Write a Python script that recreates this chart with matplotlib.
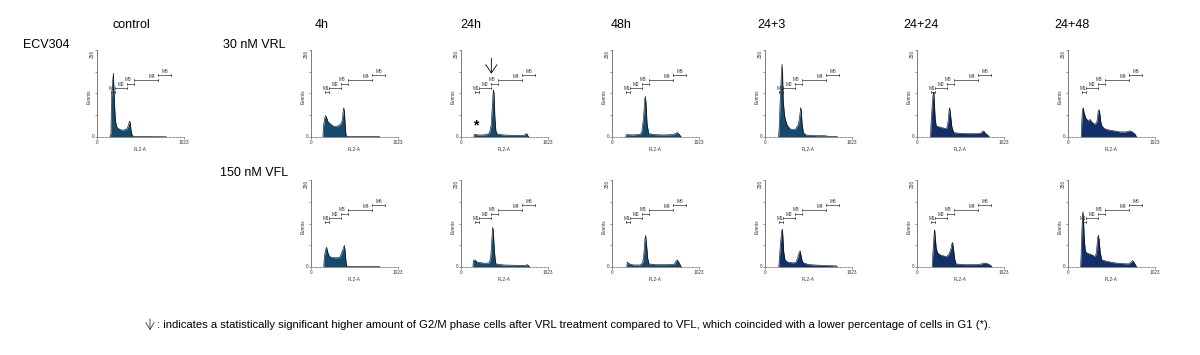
import matplotlib
matplotlib.use('Agg')
import matplotlib.pyplot as plt

plt.rcParams['font.family'] = ['Liberation Sans', 'DejaVu Sans']

# column headers and row labels
col_titles = ['control', '4h', '24h', '48h', '24+3', '24+24', '24+48']
row_labels = ['30 nM VRL', '150 nM VFL']

# marker gates (channel start, channel end, height in events)
gate_names = ['M1', 'M2', 'M3', 'M4', 'M5']
gate_lo = [160, 212, 350, 434, 720]
gate_hi = [210, 350, 434, 720, 874]
gate_y = [132, 143, 157, 167, 182]

# histogram profiles (FL2-A channel, events)
ch_ctrl = [150, 164, 170, 180, 188, 193, 198, 205, 215, 225, 240, 270, 300, 340, 360, 375, 383, 390, 400, 412, 420, 440, 600, 800, 820]
n_ctrl = [0, 10, 110, 150, 175, 188, 150, 100, 55, 35, 27, 22, 20, 22, 28, 40, 47, 42, 20, 6, 3, 2, 2, 1, 0]

ch_vrl_4h = [140, 146, 160, 172, 182, 200, 230, 260, 290, 320, 350, 368, 380, 386, 394, 402, 412, 430, 800, 810]
n_vrl_4h = [0, 30, 55, 63, 58, 45, 38, 32, 31, 33, 38, 50, 80, 86, 70, 35, 4, 2, 2, 0]

ch_vrl_24h = [150, 157, 200, 250, 300, 335, 355, 370, 380, 388, 398, 410, 425, 500, 600, 740, 760, 774, 785, 800]
n_vrl_24h = [0, 8, 6, 6, 7, 12, 35, 100, 139, 130, 60, 18, 9, 6, 5, 5, 9, 10, 4, 0]

ch_vrl_48h = [160, 169, 250, 330, 350, 370, 385, 392, 400, 412, 431, 500, 600, 717, 750, 768, 790, 815]
n_vrl_48h = [0, 7, 6, 8, 15, 55, 110, 120, 100, 40, 10, 7, 6, 7, 11, 13, 8, 0]

ch_vrl_24_3 = [160, 169, 180, 192, 200, 206, 214, 225, 235, 260, 294, 330, 353, 375, 392, 408, 418, 426, 436, 451, 480, 600, 686, 760, 843, 850]
n_vrl_24_3 = [0, 40, 120, 180, 214, 190, 110, 75, 56, 35, 24, 22, 22, 30, 37, 60, 86, 80, 40, 13, 6, 4, 4, 2, 2, 0]

ch_vrl_24_24 = [158, 165, 180, 192, 198, 206, 215, 227, 260, 300, 340, 353, 368, 378, 384, 392, 410, 431, 500, 600, 700, 745, 770, 784, 800, 843, 850]
n_vrl_24_24 = [0, 40, 100, 130, 132, 90, 50, 32, 30, 27, 25, 28, 50, 80, 86, 70, 30, 13, 11, 10, 10, 11, 16, 18, 12, 3, 0]

ch_vrl_24_48 = [155, 161, 170, 180, 190, 210, 239, 259, 280, 317, 340, 355, 365, 374, 385, 396, 420, 455, 520, 612, 680, 710, 729, 750, 790, 807]
n_vrl_24_48 = [0, 40, 80, 86, 70, 55, 47, 52, 44, 37, 45, 75, 81, 70, 45, 34, 26, 22, 19, 15, 15, 17, 18, 16, 8, 0]

ch_vfl_4h = [150, 157, 170, 184, 195, 216, 250, 290, 333, 350, 365, 380, 392, 400, 410, 420, 440, 800, 810]
n_vfl_4h = [0, 30, 50, 58, 45, 31, 28, 27, 28, 35, 46, 55, 64, 50, 20, 3, 2, 2, 0]

ch_vfl_24h = [140, 145, 165, 185, 220, 280, 333, 350, 362, 372, 380, 392, 405, 412, 500, 650, 760, 780, 795, 804]
n_vfl_24h = [0, 19, 21, 15, 13, 11, 12, 30, 80, 117, 105, 50, 15, 9, 6, 5, 5, 7, 4, 0]

ch_vfl_48h = [172, 180, 195, 250, 330, 360, 375, 388, 396, 405, 420, 435, 520, 650, 730, 755, 768, 790, 815]
n_vfl_48h = [0, 15, 10, 6, 6, 12, 40, 85, 93, 70, 25, 9, 7, 7, 8, 18, 21, 12, 0]

ch_vfl_24_3 = [162, 169, 182, 196, 204, 210, 220, 235, 270, 330, 365, 385, 400, 412, 420, 435, 451, 520, 650, 760, 843, 850]
n_vfl_24_3 = [0, 25, 70, 105, 112, 90, 45, 21, 14, 12, 14, 28, 42, 48, 38, 20, 12, 7, 5, 4, 3, 0]

ch_vfl_24_24 = [178, 184, 196, 204, 208, 214, 226, 243, 280, 320, 353, 380, 400, 412, 419, 428, 442, 459, 550, 700, 760, 784, 830, 870, 882]
n_vfl_24_24 = [0, 30, 80, 105, 109, 90, 55, 41, 35, 32, 31, 40, 55, 70, 72, 55, 25, 9, 7, 7, 9, 12, 10, 4, 0]

ch_vfl_24_48 = [148, 153, 162, 170, 176, 182, 192, 204, 230, 263, 300, 321, 335, 348, 357, 366, 378, 396, 450, 553, 650, 710, 740, 761, 780, 808]
n_vfl_24_48 = [0, 30, 100, 150, 163, 140, 80, 46, 40, 38, 33, 31, 45, 85, 94, 80, 45, 21, 17, 12, 10, 9, 14, 19, 12, 0]

teal = '#134a6e'
navy = '#112f69'

row1 = [(ch_ctrl, n_ctrl, teal), (ch_vrl_4h, n_vrl_4h, teal), (ch_vrl_24h, n_vrl_24h, teal),
        (ch_vrl_48h, n_vrl_48h, teal), (ch_vrl_24_3, n_vrl_24_3, teal),
        (ch_vrl_24_24, n_vrl_24_24, navy), (ch_vrl_24_48, n_vrl_24_48, navy)]
row2 = [None, (ch_vfl_4h, n_vfl_4h, teal), (ch_vfl_24h, n_vfl_24h, teal),
        (ch_vfl_48h, n_vfl_48h, teal), (ch_vfl_24_3, n_vfl_24_3, navy),
        (ch_vfl_24_24, n_vfl_24_24, navy), (ch_vfl_24_48, n_vfl_24_48, navy)]

W, H = 1200, 355
fig = plt.figure(figsize=(12, 3.55), dpi=100)

col_left = [97, 311, 461, 612, 765, 917, 1068]
row_bottom = [137, 267]
ax_w, ax_h = 87, 87


def fx(px):
    return px / W


def fy(py):
    return 1 - py / H


def histo_panel(ax, ch, n, color):
    ax.fill_between(ch, n, 0, color=color, lw=0)
    ax.plot(ch, n, color='black', lw=0.4)
    ax.set_xlim(0, 1023)
    ax.set_ylim(0, 256)
    for s in ['top', 'right']:
        ax.spines[s].set_visible(False)
    ax.spines['left'].set_color('#666666')
    ax.spines['bottom'].set_color('#888888')
    ax.spines['left'].set_linewidth(0.6)
    ax.spines['bottom'].set_linewidth(0.6)
    ax.spines['bottom'].set_linestyle((0, (3, 1.5)))
    ax.set_yticks([0, 64, 128, 192, 256])
    ax.set_xticks([0, 1023])
    ax.tick_params(length=1.5, width=0.5, color='#666666', labelleft=False, labelbottom=False)
    ax.patch.set_alpha(0)
    sm = 3.4
    ax.text(-25, 256, '256', fontsize=sm, rotation=90, ha='right', va='top', color='#333333')
    ax.text(-25, 0, '0', fontsize=sm, ha='right', va='center', color='#333333')
    ax.text(-60, 120, 'Events', fontsize=sm, rotation=90, ha='right', va='center', color='#333333')
    ax.text(0, -10, '0', fontsize=sm, ha='center', va='top', color='#333333')
    ax.text(1023, -10, '1023', fontsize=sm, ha='center', va='top', color='#333333')
    ax.text(512, -28, 'FL2-A', fontsize=sm, ha='center', va='top', color='#333333')
    # marker gates
    for name, lo, hi, gy in zip(gate_names, gate_lo, gate_hi, gate_y):
        ax.plot([lo, hi], [gy, gy], color='#333333', lw=0.5)
        ax.plot([lo, lo], [gy - 3, gy + 3], color='#333333', lw=0.5)
        ax.plot([hi, hi], [gy - 3, gy + 3], color='#333333', lw=0.5)
        if name == 'M4':
            lx = lo + 0.75 * (hi - lo)
        elif name in ('M1', 'M3'):
            lx = lo + 15
        else:
            lx = (lo + hi) / 2
        ax.text(lx, gy + 4, name, fontsize=sm, ha='center', va='bottom', color='#333333')


axes = {}
for r, row in enumerate([row1, row2]):
    for c, panel in enumerate(row):
        if panel is None:
            continue
        ax = fig.add_axes([fx(col_left[c]), fy(row_bottom[r]), ax_w / W, ax_h / H])
        histo_panel(ax, *panel)
        axes[(r, c)] = ax

# arrow and star in the 24h VRL panel
ax = axes[(0, 2)]
ax.annotate('', xy=(357, 178), xytext=(357, 240), xycoords='data',
            arrowprops=dict(arrowstyle='->,head_length=0.6,head_width=0.4', lw=0.6, color='black'))
ax.text(176, 35, '*', fontsize=10, ha='center', va='center', fontweight='bold')

# headers
title_x = [131, 322, 471, 621, 771, 921, 1072]
for t, x in zip(col_titles, title_x):
    fig.text(fx(x), fy(25), t, fontsize=9, ha='center', va='center')
fig.text(fx(23), fy(45), 'ECV304', fontsize=9, ha='left', va='center')
fig.text(fx(223), fy(45), row_labels[0], fontsize=9, ha='left', va='center')
fig.text(fx(220), fy(173), row_labels[1], fontsize=9, ha='left', va='center')

# footnote
fig.patches.append(matplotlib.patches.FancyArrowPatch(
    (fx(150), fy(316)), (fx(150), fy(333)), transform=fig.transFigure,
    arrowstyle='->,head_length=5,head_width=3', lw=0.6, color='#333333'))
fig.text(fx(157), fy(325), ': indicates a statistically significant higher amount of G2/M phase cells after VRL '
         'treatment compared to VFL, which coincided with a lower percentage of cells in G1 (*).',
         fontsize=8.1, ha='left', va='center')

fig.savefig('out.png', dpi=100)
